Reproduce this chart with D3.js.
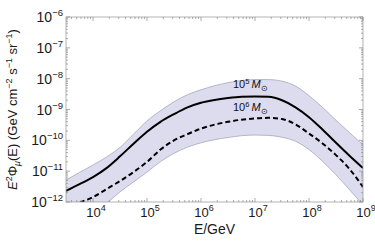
<!DOCTYPE html>
<html>
<head>
<meta charset="utf-8">
<script src="https://cdn.jsdelivr.net/npm/d3@7"></script>
<style>
  body { margin: 0; background: #fff; }
  text { font-family: "Liberation Sans", Arial, sans-serif; }
</style>
</head>
<body>
<div class="chart"></div>
<script>
const width = 375;
const height = 244;

// energies in GeV (log10)
const logEnergy = [3.5, 3.75, 4.0, 4.25, 4.5, 4.75, 5.0, 5.25, 5.5, 5.75, 6.0, 6.25,
  6.5, 6.75, 7.0, 7.25, 7.5, 7.75, 8.0, 8.25, 8.5, 8.75, 9.0];

// log10 of E^2 Phi
const fluxM5 = [-11.64, -11.42, -11.19, -10.90, -10.52, -10.11, -9.72, -9.40, -9.15, -8.93,
  -8.78, -8.69, -8.63, -8.59, -8.58, -8.59, -8.70, -8.93, -9.25, -9.65, -10.08, -10.50, -10.90];
const fluxM6 = [-12.28, -12.03, -11.84, -11.58, -11.32, -11.03, -10.70, -10.30, -10.00, -9.80,
  -9.62, -9.49, -9.40, -9.33, -9.29, -9.27, -9.31, -9.48, -9.78, -10.10, -10.48, -10.93, -11.51];
const bandUpper = [-11.29, -11.04, -10.80, -10.54, -10.23, -9.80, -9.37, -9.04, -8.75, -8.52,
  -8.36, -8.23, -8.13, -8.06, -8.03, -8.03, -8.08, -8.24, -8.55, -8.93, -9.35, -9.75, -10.15];
const bandLower = [-13.1, -12.75, -12.4, -12.05, -11.67, -11.35, -11.03, -10.69, -10.42, -10.22,
  -10.08, -9.98, -9.91, -9.85, -9.83, -9.84, -9.90, -10.03, -10.30, -10.68, -11.12, -11.60, -12.10];

const xTickExp = [4, 5, 6, 7, 8, 9];
const yTickExp = [-6, -7, -8, -9, -10, -11, -12];

const pLeft = 66, pRight = 363, pTop = 17, pBottom = 202;

const x = d3.scaleLog().domain([Math.pow(10, 3.5), 1e9]).range([pLeft, pRight]);
const y = d3.scaleLog().domain([1e-12, 1e-6]).range([pBottom, pTop]);

const svg = d3.select('.chart').append('svg')
  .attr('width', width)
  .attr('height', height)

svg.append('clipPath').attr('id', 'plot')
  .append('rect')
  .attr('x', pLeft).attr('y', pTop)
  .attr('width', pRight - pLeft).attr('height', pBottom - pTop)

const pts = arr => arr.map((v, i) => [Math.pow(10, logEnergy[i]), Math.pow(10, v)]);

const g = svg.append('g').attr('clip-path', 'url(#plot)')

const area = d3.area()
  .x(d => x(d[0]))
  .y0(d => y(d[2]))
  .y1(d => y(d[1]))
  .curve(d3.curveMonotoneX)

const band = logEnergy.map((e, i) => [Math.pow(10, e), Math.pow(10, bandUpper[i]), Math.pow(10, bandLower[i])]);

g.append('path')
  .attr('d', area(band))
  .attr('fill', '#dcdcee')
  .attr('stroke', 'none')

const line = d3.line()
  .x(d => x(d[0]))
  .y(d => y(d[1]))
  .curve(d3.curveMonotoneX)

// thin edges of the band
g.append('path').attr('d', line(pts(bandUpper)))
  .attr('fill', 'none').attr('stroke', '#9c9cb0').attr('stroke-width', 0.7)
g.append('path').attr('d', line(pts(bandLower)))
  .attr('fill', 'none').attr('stroke', '#9c9cb0').attr('stroke-width', 0.7)

g.append('path').attr('d', line(pts(fluxM5)))
  .attr('fill', 'none').attr('stroke', '#000').attr('stroke-width', 2)

g.append('path').attr('d', line(pts(fluxM6)))
  .attr('fill', 'none').attr('stroke', '#000').attr('stroke-width', 2)
  .attr('stroke-dasharray', '5,3')

// frame and ticks
const tickCol = '#8a8a8a';
svg.append('rect')
  .attr('x', pLeft).attr('y', pTop)
  .attr('width', pRight - pLeft).attr('height', pBottom - pTop)
  .attr('fill', 'none').attr('stroke', '#a0a0a0').attr('stroke-width', 0.8)

const xMinor = [];
for (let e = 3; e <= 8; e++) for (let k = 2; k <= 9; k++) {
  const v = k * Math.pow(10, e);
  if (v > x.domain()[0] && v < 1e9) xMinor.push(v);
}
const yMinor = [];
for (let e = -12; e < -6; e++) for (let k = 2; k <= 9; k++) yMinor.push(k * Math.pow(10, e));

const ticks = svg.append('g').attr('stroke', tickCol).attr('stroke-width', 0.7)
xTickExp.forEach(p => {
  const xx = x(Math.pow(10, p));
  ticks.append('line').attr('x1', xx).attr('x2', xx).attr('y1', pBottom).attr('y2', pBottom - 4)
  ticks.append('line').attr('x1', xx).attr('x2', xx).attr('y1', pTop).attr('y2', pTop + 4)
})
xMinor.forEach(v => {
  const xx = x(v);
  ticks.append('line').attr('x1', xx).attr('x2', xx).attr('y1', pBottom).attr('y2', pBottom - 2)
  ticks.append('line').attr('x1', xx).attr('x2', xx).attr('y1', pTop).attr('y2', pTop + 2)
})
yTickExp.forEach(p => {
  const yy = y(Math.pow(10, p));
  ticks.append('line').attr('y1', yy).attr('y2', yy).attr('x1', pLeft).attr('x2', pLeft + 4)
  ticks.append('line').attr('y1', yy).attr('y2', yy).attr('x1', pRight).attr('x2', pRight - 4)
})
yMinor.forEach(v => {
  const yy = y(v);
  ticks.append('line').attr('y1', yy).attr('y2', yy).attr('x1', pLeft).attr('x2', pLeft + 2)
  ticks.append('line').attr('y1', yy).attr('y2', yy).attr('x1', pRight).attr('x2', pRight - 2)
})

// tick labels
xTickExp.forEach(p => {
  const t = svg.append('text')
    .attr('x', x(Math.pow(10, p)) + 3).attr('y', 217)
    .attr('text-anchor', 'middle').attr('font-size', 13).attr('fill', '#1a1a1a')
  t.append('tspan').text('10')
  t.append('tspan').attr('dy', -6).attr('font-size', 9).text(p)
})
yTickExp.forEach(p => {
  const t = svg.append('text')
    .attr('x', 63).attr('y', y(Math.pow(10, p)) + 5)
    .attr('text-anchor', 'end').attr('font-size', 14).attr('fill', '#1a1a1a')
  t.append('tspan').text('10')
  t.append('tspan').attr('dy', -6).attr('font-size', 9.5).text('\u2212' + (-p))
})

// axis titles
svg.append('text')
  .attr('x', (pLeft + pRight) / 2).attr('y', 234)
  .attr('text-anchor', 'middle').attr('font-size', 14).attr('fill', '#1a1a1a')
  .text('E/GeV')

const yt = svg.append('text')
  .attr('transform', 'translate(17,' + ((pTop + pBottom) / 2) + ') rotate(-90)')
  .attr('text-anchor', 'middle').attr('font-size', 13).attr('fill', '#1a1a1a')
yt.append('tspan').attr('font-style', 'italic').text('E')
yt.append('tspan').attr('dy', -5).attr('font-size', 9).text('2')
yt.append('tspan').attr('dy', 5).text('\u03A6')
yt.append('tspan').attr('dy', 3).attr('font-size', 9).attr('font-style', 'italic').text('\u03BC')
yt.append('tspan').attr('dy', -3).text('(E) (GeV cm')
yt.append('tspan').attr('dy', -5).attr('font-size', 9).text('\u22122')
yt.append('tspan').attr('dy', 5).text(' s')
yt.append('tspan').attr('dy', -5).attr('font-size', 9).text('\u22121')
yt.append('tspan').attr('dy', 5).text(' sr')
yt.append('tspan').attr('dy', -5).attr('font-size', 9).text('\u22121')
yt.append('tspan').attr('dy', 5).text(')')

// curve labels
const massLabels = [{ exp: '5', ty: 88 }, { exp: '6', ty: 111 }];
massLabels.forEach(m => {
  const t = svg.append('text')
    .attr('x', 233).attr('y', m.ty)
    .attr('font-family', '"Liberation Serif", "Times New Roman", serif')
    .attr('font-size', 11).attr('fill', '#111')
  t.append('tspan').text('10')
  t.append('tspan').attr('dy', -4).attr('font-size', 7.5).text(m.exp)
  t.append('tspan').attr('dy', 4).attr('font-style', 'italic').text('\u2009M')
  t.append('tspan').attr('dy', 3).attr('font-size', 8).text('\u2299')
})
</script>
</body>
</html>
